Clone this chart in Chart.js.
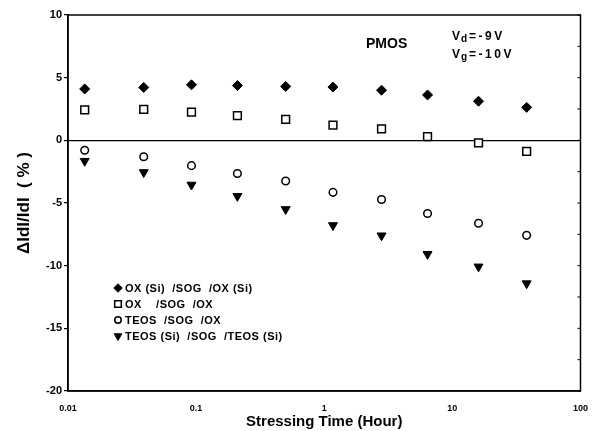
<!DOCTYPE html>
<html>
<head>
<meta charset="utf-8">
<script src="https://cdn.jsdelivr.net/npm/chart.js@4.4.0/dist/chart.umd.min.js"></script>
<style>
  html, body { margin: 0; padding: 0; background: #fff; }
  #wrap { width: 592px; height: 431px; }
</style>
</head>
<body>
<div id="wrap"><canvas id="myChart"></canvas></div>
<script>
// stressing time (hour) and drain current shift (%) for each stack
const hours  = [0.0135, 0.039, 0.092, 0.21, 0.5, 1.17, 2.8, 6.4, 16, 38];
const oxSi   = [4.10, 4.22, 4.43, 4.37, 4.30, 4.25, 4.00, 3.62, 3.12, 2.63];
const ox     = [2.43, 2.47, 2.25, 1.98, 1.68, 1.22, 0.92, 0.30, -0.20, -0.88];
const teos   = [-0.79, -1.31, -2.02, -2.65, -3.24, -4.15, -4.72, -5.84, -6.62, -7.58];
const teosSi = [-1.65, -2.55, -3.55, -4.45, -5.50, -6.78, -7.60, -9.08, -10.08, -11.42];
const seriesNames = ['OX (Si)  /SOG  /OX (Si)', 'OX    /SOG  /OX', 'TEOS  /SOG  /OX', 'TEOS (Si)  /SOG  /TEOS (Si)'];
const xTicks = [0.01, 0.1, 1, 10, 100];
const yTicks = [10, 5, 0, -5, -10, -15, -20];

const FONT = "'Liberation Sans', Arial, sans-serif";

function pts(ys) {
    return ys.map((y, i) => ({ x: hours[i], y: y }));
}

// frame, right-hand ticks, legend and the bias notes
const extras = {
    id: 'extras',
    afterDraw(chart) {
        const { ctx, chartArea: a } = chart;
        const yScale = chart.scales.y;
        ctx.save();
        ctx.strokeStyle = '#000';
        ctx.lineWidth = 1.5;
        ctx.strokeRect(a.left, a.top, a.right - a.left, a.bottom - a.top);
        ctx.lineWidth = 1;
        for (let v = -20; v <= 10; v += 2.5) {
            const py = yScale.getPixelForValue(v);
            ctx.beginPath();
            ctx.moveTo(a.right, py);
            ctx.lineTo(a.right - 3, py);
            ctx.stroke();
        }

        // legend
        const lx = a.left + 50, ly0 = 288, step = 16;
        chart.data.datasets.forEach((ds, i) => {
            const y = ly0 + i * step;
            ctx.fillStyle = ds.backgroundColor;
            ctx.strokeStyle = ds.borderColor;
            ctx.lineWidth = ds.borderWidth;
            Chart.helpers.drawPoint(ctx, {
                pointStyle: ds.pointStyle,
                radius: ds.pointRadius * 0.85,
                rotation: ds.rotation || 0,
                borderWidth: ds.borderWidth
            }, lx, y);
            ctx.fillStyle = '#000';
            ctx.font = 'bold 11px ' + FONT;
            ctx.letterSpacing = '0.5px';
            ctx.textBaseline = 'middle';
            ctx.textAlign = 'left';
            ctx.fillText(ds.label, lx + 7, y + 0.5);
            ctx.letterSpacing = '0px';
        });

        // device and bias notes
        ctx.fillStyle = '#000';
        ctx.textBaseline = 'alphabetic';
        ctx.font = 'bold 14px ' + FONT;
        ctx.fillText('PMOS', 366, 48);
        const note = (x, y, sub, rest) => {
            ctx.font = 'bold 12px ' + FONT;
            ctx.fillText('V', x, y);
            const w = ctx.measureText('V').width;
            ctx.font = 'bold 10px ' + FONT;
            ctx.fillText(sub, x + w + 1, y + 2);
            const w2 = ctx.measureText(sub).width;
            ctx.font = 'bold 12px ' + FONT;
            ctx.letterSpacing = '2.5px';
            ctx.fillText(rest, x + w + w2 + 3, y);
            ctx.letterSpacing = '0px';
        };
        note(452, 40, 'd', '=-9V');
        note(452, 58, 'g', '=-10V');
        ctx.restore();
    }
};

document.addEventListener('DOMContentLoaded', () => {
    const ctx = document.getElementById('myChart');
    new Chart(ctx, {
        type: 'scatter',
        data: {
            datasets: [
                { label: seriesNames[0], data: pts(oxSi), pointStyle: 'rectRot', pointRadius: 5,
                  backgroundColor: '#000', borderColor: '#000', borderWidth: 1 },
                { label: seriesNames[1], data: pts(ox), pointStyle: 'rect', pointRadius: 5.5,
                  backgroundColor: '#fff', borderColor: '#000', borderWidth: 1.5 },
                { label: seriesNames[2], data: pts(teos), pointStyle: 'circle', pointRadius: 3.8,
                  backgroundColor: '#fff', borderColor: '#000', borderWidth: 1.5 },
                { label: seriesNames[3], data: pts(teosSi), pointStyle: 'triangle', rotation: 180, pointRadius: 5.2,
                  backgroundColor: '#000', borderColor: '#000', borderWidth: 1 }
            ]
        },
        options: {
            responsive: true,
            maintainAspectRatio: false,
            animation: false,
            layout: { padding: { top: 15, right: 11, left: 0, bottom: 0 } },
            elements: { point: { hoverRadius: 5 } },
            plugins: {
                legend: { display: false },
                tooltip: { enabled: false }
            },
            scales: {
                x: {
                    type: 'logarithmic',
                    min: 0.01,
                    max: 100,
                    afterBuildTicks: (s) => { s.ticks = xTicks.map(v => ({ value: v })); },
                    afterFit: (s) => { s.height = 40; },
                    grid: { display: false },
                    border: { display: true, color: '#000', width: 1.5 },
                    ticks: {
                        color: '#000',
                        padding: 4,
                        maxRotation: 0,
                        autoSkip: false,
                        font: { family: FONT, size: 9, weight: 'bold' },
                        callback: (v) => String(v)
                    },
                    title: {
                        display: true,
                        text: 'Stressing Time (Hour)',
                        color: '#000',
                        padding: { top: 0, bottom: 0 },
                        font: { family: FONT, size: 15, weight: 'bold' }
                    }
                },
                y: {
                    min: -20,
                    max: 10,
                    afterBuildTicks: (s) => { s.ticks = yTicks.map(v => ({ value: v })); },
                    afterFit: (s) => { s.width = 68; },
                    grid: {
                        drawOnChartArea: true,
                        color: (c) => (c.tick && c.tick.value === 0 ? '#000' : 'rgba(0,0,0,0)'),
                        lineWidth: 1.2,
                        drawTicks: true,
                        tickLength: 4,
                        tickColor: '#000'
                    },
                    border: { display: true, color: '#000', width: 1.5 },
                    ticks: {
                        color: '#000',
                        padding: 2,
                        font: { family: FONT, size: 11, weight: 'bold' },
                        callback: (v) => String(v)
                    },
                    title: {
                        display: true,
                        text: 'ΔIdI/IdI  ( % )',
                        color: '#000',
                        padding: { top: 14, bottom: 0 },
                        font: { family: FONT, size: 17, weight: 'bold' }
                    }
                }
            }
        },
        plugins: [extras]
    });
});
</script>
</body>
</html>
